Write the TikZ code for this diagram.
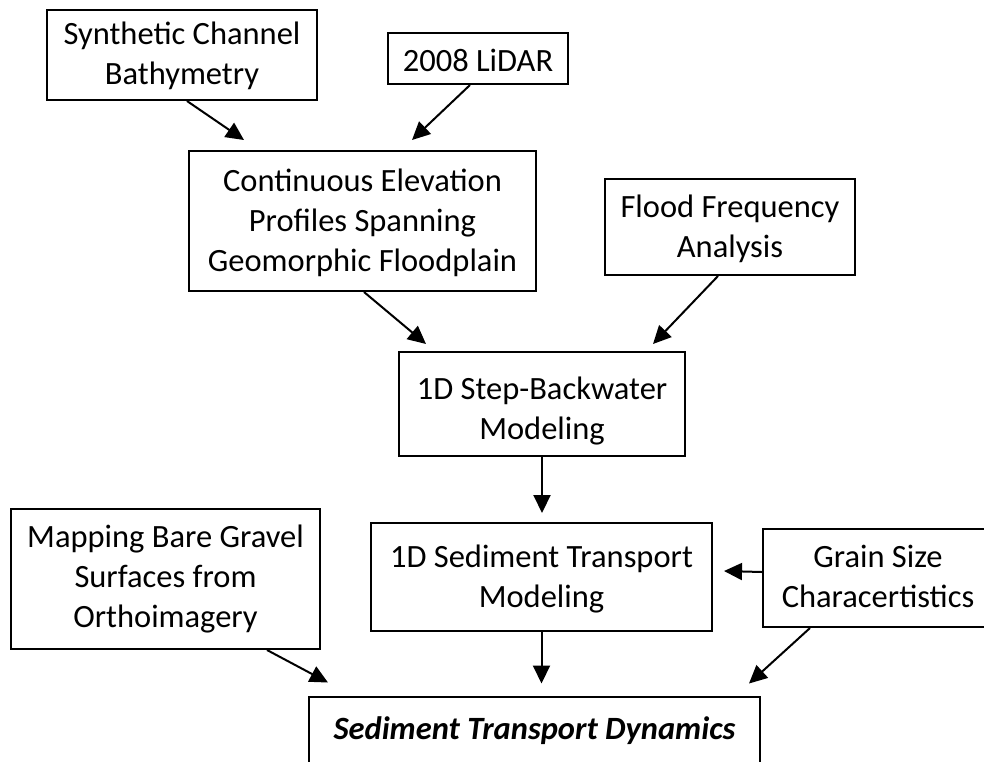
\documentclass[tikz,border=0pt]{standalone}
\usepackage{fontspec}
\setmainfont{Carlito}
\usetikzlibrary{arrows.meta,positioning}

\begin{document}
\begin{tikzpicture}[x=1pt,y=-1pt,
				font=\fontsize{32.5}{40}\selectfont,
				procBox/.style={draw,line width=2pt,rectangle,align=center,inner sep=0pt},
				boxDims/.style n args={3}{minimum width=#1,text height=#2,text depth=#3},
				resultBox/.style={procBox,font=\fontsize{32.5}{40}\selectfont\bfseries\itshape},
				flow/.style={line width=2pt,-{Triangle[length=18pt,width=17pt]}}]
			\useasboundingbox (0,0) rectangle (984,761);
			\clip (0,0) rectangle (984,761);
			% inputs
			\node [procBox, boxDims={270pt}{74.5pt}{15.5pt}] (synth) at (182,55) {Synthetic Channel\\Bathymetry};
			\node [procBox, boxDims={180pt}{38pt}{13pt}] (lidar) at (478,58.5) {2008 LiDAR};
			\node [procBox, boxDims={347pt}{120.7pt}{19.3pt}] (profiles) at (362.5,221) {Continuous Elevation\\Profiles Spanning\\Geomorphic Floodplain};
			\node [procBox, boxDims={250pt}{78.3pt}{17.7pt}] (flood) at (730,227) {Flood Frequency\\Analysis};
			% models
			\node [procBox, boxDims={286pt}{87.3pt}{16.7pt}] (stepBackwater) at (542,404) {1D Step-Backwater\\Modeling};
			\node [procBox, boxDims={341pt}{84.7pt}{23.3pt}] (sedModel) at (541.5,577) {1D Sediment Transport\\Modeling};
			\node [procBox, boxDims={309pt}{118.3pt}{21.7pt}] (mapping) at (165.5,579) {Mapping Bare Gravel\\Surfaces from\\Orthoimagery};
			\node [procBox, boxDims={230pt}{78.7pt}{19.3pt}] (grain) at (878,578) {Grain Size\\Characertistics};
			% result
			\node [resultBox, boxDims={451pt}{42.8pt}{25.2pt}] (dynamics) at (534.5,730.5) {Sediment Transport Dynamics};

			\draw [flow] ([xshift=5pt]synth.south) -- ([xshift=56pt,yshift=10pt]profiles.north west);
			\draw [flow] ([xshift=-8pt]lidar.south) -- ([xshift=49.5pt,yshift=10pt]profiles.north);
			\draw [flow] ([xshift=1.5pt]profiles.south) -- ([xshift=28pt,yshift=7pt]stepBackwater.north west);
			\draw [flow] ([xshift=-12pt]flood.south) -- ([xshift=-33pt,yshift=7pt]stepBackwater.north east);
			\draw [flow] (stepBackwater.south) -- ([yshift=9pt]stepBackwater.south |- sedModel.north);
			\draw [flow] ([yshift=6pt]grain.west) -- ([xshift=11pt,yshift=6pt]sedModel.east);
			\draw [flow] (sedModel.south) -- ([yshift=12pt]sedModel.south |- dynamics.north);
			\draw [flow] ([xshift=101.5pt]mapping.south) -- ([xshift=20pt,yshift=13pt]dynamics.north west);
			\draw [flow] ([xshift=48pt]grain.south west) -- ([xshift=-12pt,yshift=12pt]dynamics.north east);
		\end{tikzpicture}
\end{document}
